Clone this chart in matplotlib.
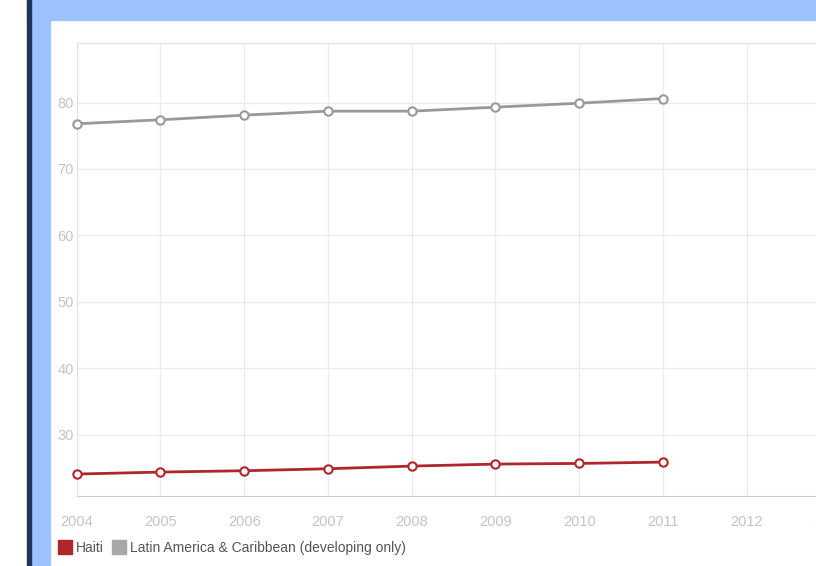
import matplotlib.pyplot as plt
from matplotlib.lines import Line2D
from matplotlib.patches import Rectangle

years = [2004, 2005, 2006, 2007, 2008, 2009, 2010, 2011]
haiti = [24.1, 24.4, 24.6, 24.9, 25.3, 25.6, 25.7, 25.9]
latam = [76.8, 77.4, 78.1, 78.7, 78.7, 79.3, 79.9, 80.6]
x_ticks = [2004, 2005, 2006, 2007, 2008, 2009, 2010, 2011, 2012, 2013]
y_ticks = [30, 40, 50, 60, 70, 80]
labels = ["Haiti", "Latin America & Caribbean (developing only)"]

red = "#b0272b"
grey = "#999999"
font = ["Liberation Sans Narrow", "Liberation Sans", "DejaVu Sans"]
plt.rcParams["font.family"] = font

fig = plt.figure(figsize=(8.16, 5.66), dpi=100)
W, H = 816, 566

# page frame behind the chart
fig.patches.append(Rectangle((31 / W, 0), 19 / W, 1, transform=fig.transFigure,
                             color="#9cc3fd", zorder=0))
fig.patches.append(Rectangle((27 / W, (H - 20) / H), 1, 20 / H, transform=fig.transFigure,
                             color="#9cc3fd", zorder=0))
fig.patches.append(Rectangle((27 / W, 0), 3.5 / W, 1, transform=fig.transFigure,
                             color="#1d3557", zorder=1))

ax = fig.add_axes([76.7 / W, (H - 496) / H, 778.9 / W, 453.3 / H])
ax.set_xlim(2004, 2013.3)
ax.set_ylim(20.8, 89)

ax.plot(years, latam, color=grey, lw=2, marker="o", ms=6,
        mfc="white", mec=grey, mew=1.5, zorder=3, clip_on=False)
ax.plot(years, haiti, color=red, lw=2, marker="o", ms=6,
        mfc="white", mec=red, mew=1.5, zorder=3, clip_on=False)

ax.set_xticks(x_ticks)
ax.set_yticks(y_ticks)
ax.grid(True, color="#ececec", lw=1)
ax.set_axisbelow(True)
ax.tick_params(length=0, labelsize=10.5, labelcolor="#c4c4c4")
ax.tick_params(axis="x", pad=14)
ax.tick_params(axis="y", pad=2)
for s in ["left", "top"]:
    ax.spines[s].set_color("#e2e2e2")
ax.spines["bottom"].set_color("#cccccc")
ax.spines["right"].set_visible(False)

handles = [Line2D([], [], ls="none", marker="s", ms=10, mfc=red, mec=red),
           Line2D([], [], ls="none", marker="s", ms=10, mfc="#a8a8a8", mec="#a8a8a8")]
fig.legend(handles, labels, loc="center left", bbox_to_anchor=(58 / W, (H - 548) / H),
           ncol=2, frameon=False, handlelength=1.0, handletextpad=0.3,
           columnspacing=0.6, borderaxespad=0, borderpad=0,
           prop={"size": 10}, labelcolor="#555555")

fig.savefig("out.png", dpi=100)
